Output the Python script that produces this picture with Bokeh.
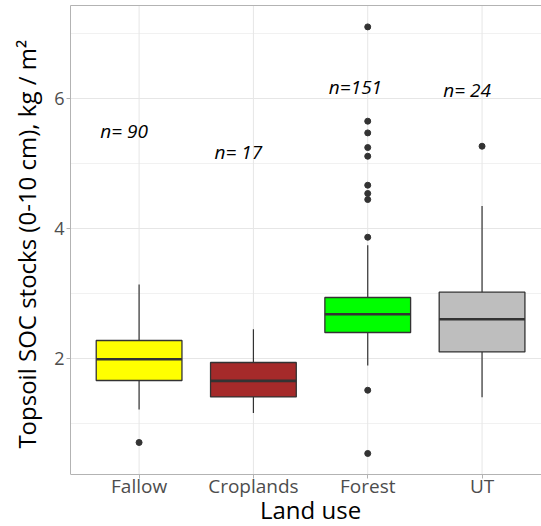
from bokeh.plotting import figure
from bokeh.models import FixedTicker, LinearAxis, Range1d, Label
from bokeh.embed import file_html
from bokeh.resources import INLINE
from bokeh.core.properties import value

# ---- data ----
categories = ["Fallow", "Croplands", "Forest", "UT"]
positions = [1, 2, 3, 4]
fill_colors = ["#FFFF00", "#A52A2A", "#00FF00", "#BEBEBE"]
upper_whisker = [3.145, 2.457, 3.749, 4.354]
q3 = [2.283, 1.945, 2.945, 3.026]
median = [1.995, 1.662, 2.688, 2.611]
q1 = [1.668, 1.415, 2.406, 2.108]
lower_whisker = [1.222, 1.169, 1.898, 1.411]

outlier_cat = [1, 3, 3, 3, 3, 3, 3, 3, 3, 3, 3, 3, 4]
outlier_val = [0.714, 0.545, 1.518, 3.872, 4.452, 4.545, 4.672, 5.118, 5.252,
               5.477, 5.657, 7.108, 5.272]

n_labels = ["n= 90", "n= 17", "n=151", "n= 24"]
n_label_y = [5.50, 5.18, 6.19, 6.13]

y_ticks = [2, 4, 6]
y_minor = [1, 3, 5, 7]
x_title = "Land use"
y_title = "Topsoil SOC stocks (0-10 cm), kg / m\u00b2"

# ---- styling / layout ----
box_width = 0.75
FONT = "Open Sans"
GRID = "#E6E6E6"
BORDER = "#B3B3B3"
panel_bottom = 0.226      # lower edge of the plotting panel
panel_top = 7.437         # upper edge of the plotting panel
px_per_unit = 65.0
canvas_h, top_pad = 526, 5
y_start = panel_top - (canvas_h - top_pad) / px_per_unit
# the frame reaches the canvas bottom, so lift the centred y title to the panel centre
title_lift = "\u00a0" * 7

p = figure(width=541, height=canvas_h, output_backend="svg", toolbar_location=None,
           x_range=Range1d(0.4, 4.52), y_range=Range1d(y_start, panel_top),
           min_border_left=70, min_border_top=top_pad, min_border_right=0,
           min_border_bottom=0)
p.outline_line_color = None
p.background_fill_color = "white"
p.border_fill_color = "white"

# grids (x grid drawn only inside the panel)
p.xgrid.visible = False
p.ygrid.ticker = FixedTicker(ticks=y_ticks, minor_ticks=y_minor)
p.ygrid.grid_line_color = GRID
p.ygrid.grid_line_width = 1
p.ygrid.minor_grid_line_color = "#EEEEEE"
p.ygrid.minor_grid_line_width = 0.8
p.segment(x0=positions, x1=positions, y0=panel_bottom, y1=panel_top,
          line_color=GRID, line_width=1)

# axes
for ax in (p.xaxis[0], p.yaxis[0]):
    ax.axis_line_color = BORDER
    ax.axis_line_width = 1
    ax.major_tick_line_color = BORDER
    ax.major_tick_out = 4
    ax.major_tick_in = 0
    ax.minor_tick_line_color = None
    ax.major_label_text_font = FONT
    ax.major_label_text_color = "#4D4D4D"
    ax.axis_label_text_font = FONT
    ax.axis_label_text_font_size = "24px"
    ax.axis_label_text_font_style = "normal"
    ax.axis_label_text_color = "black"

p.xaxis.ticker = FixedTicker(ticks=positions)
p.xaxis.major_label_overrides = {pos: c for pos, c in zip(positions, categories)}
p.xaxis.major_label_text_font_size = "19px"
p.xaxis.major_label_standoff = -5
p.xaxis.fixed_location = panel_bottom

p.yaxis.ticker = FixedTicker(ticks=y_ticks)
p.yaxis.bounds = (panel_bottom, panel_top)
p.yaxis.major_label_text_font_size = "18px"
p.yaxis.axis_label = title_lift + y_title
p.yaxis.major_label_standoff = 2
p.yaxis.axis_label_standoff = 8

top_axis = LinearAxis(ticker=FixedTicker(ticks=[]), axis_line_color=BORDER,
                      major_label_text_font_size="0px", major_tick_line_color=None,
                      minor_tick_line_color=None)
p.add_layout(top_axis, "above")

# x-axis title, below the tick labels
p.add_layout(Label(x=(0.4 + 4.6) / 2, y=panel_bottom, y_offset=-35,
                   text=x_title, text_font=FONT, text_font_size="24px",
                   text_align="center", text_baseline="middle",
                   text_color="black"))

# whiskers
p.segment(x0=positions, x1=positions, y0=q3, y1=upper_whisker,
          line_color="#333333", line_width=1.2)
p.segment(x0=positions, x1=positions, y0=q1, y1=lower_whisker,
          line_color="#333333", line_width=1.2)

# boxes
p.vbar(x=positions, width=box_width, top=q3, bottom=q1, fill_color=fill_colors,
       line_color="#333333", line_width=1.3)

# medians
p.segment(x0=[x - box_width / 2 for x in positions],
          x1=[x + box_width / 2 for x in positions],
          y0=median, y1=median, line_color="#333333", line_width=2.6)

# outliers
p.scatter(x=outlier_cat, y=outlier_val, size=6, fill_color="#333333",
          line_color="#333333")

# n labels
p.text(x=[x - 0.34 for x in positions], y=n_label_y, text=n_labels,
       text_font=value(FONT), text_font_size="19px", text_font_style="italic",
       text_align="left", text_baseline="middle", text_color="black")

open("out.html", "w").write(file_html(p, INLINE))
